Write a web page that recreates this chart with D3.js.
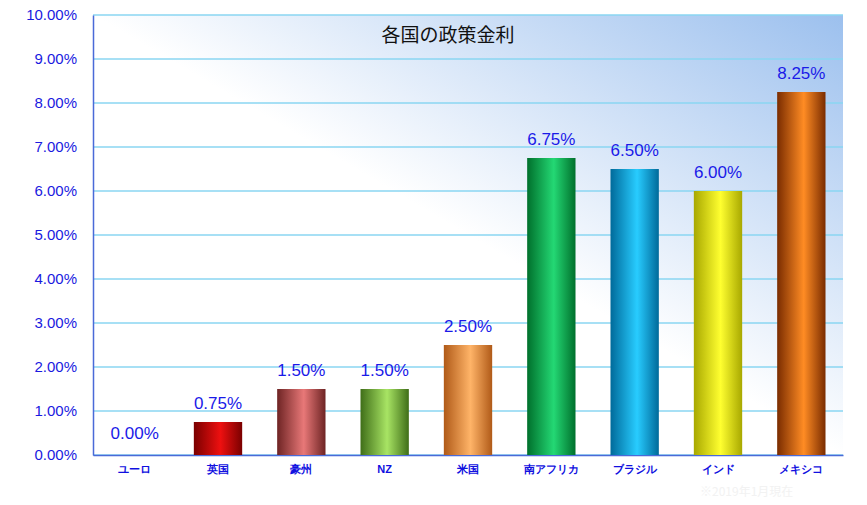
<!DOCTYPE html>
<html><head><meta charset="utf-8">
<script src="https://cdn.jsdelivr.net/npm/d3@7"></script>
<style>body{margin:0;background:#fff}</style>
</head><body>
<script>
var categories = ["ユーロ","英国","豪州","NZ","米国","南アフリカ","ブラジル","インド","メキシコ"];
var rates = [0, 0.75, 1.5, 1.5, 2.5, 6.75, 6.5, 6.0, 8.25];
var darkColors = ["#888","#7a0000","#6e2424","#3f6e18","#b05a18","#00702c","#006a9a","#a8a800","#7a2c00"];
var lightColors = ["#ccc","#ee1010","#e87878","#a8e464","#ffb468","#24d874","#28ccff","#ffff30","#ff8c24"];
var yTicks = [0,1,2,3,4,5,6,7,8,9,10];

var W = 867, H = 505, m = {l:93, r:24, t:15, b:50};
var svg = d3.select("body").append("svg").attr("width", W).attr("height", H)
    .style("font-family", "'Noto Sans CJK JP', sans-serif");
var defs = svg.append("defs");

var bg = defs.append("linearGradient").attr("id","bg")
    .attr("x1","0%").attr("y1","100%").attr("x2","100%").attr("y2","0%");
bg.append("stop").attr("offset","50%").attr("stop-color","#ffffff");
bg.append("stop").attr("offset","100%").attr("stop-color","#9cc0ee");

rates.forEach(function(v, i) {
    var g = defs.append("linearGradient").attr("id","bar"+i);
    g.append("stop").attr("offset","0%").attr("stop-color", darkColors[i]);
    g.append("stop").attr("offset","55%").attr("stop-color", lightColors[i]);
    g.append("stop").attr("offset","100%").attr("stop-color", darkColors[i]);
});

var x = d3.scaleBand().domain(categories).range([m.l, W - m.r]).paddingInner(0.42).paddingOuter(0.21);
var y = d3.scaleLinear().domain([0, 10]).range([H - m.b, m.t]);

svg.append("rect").attr("x", m.l).attr("y", m.t).attr("width", W - m.r - m.l)
    .attr("height", H - m.b - m.t).attr("fill", "url(#bg)");

// Grid lines
svg.append("g").selectAll("line").data(yTicks).join("line")
    .attr("x1", m.l).attr("x2", W - m.r).attr("y1", y).attr("y2", y)
    .attr("stroke", "#8ad6f2").attr("stroke-width", 1.5);

// Y axis
var yAxis = svg.append("g").attr("transform", "translate(" + m.l + ",0)")
    .call(d3.axisLeft(y).tickValues(yTicks).tickSize(0).tickPadding(16)
        .tickFormat(function(d) { return d.toFixed(2) + "%"; }));
yAxis.select(".domain").attr("stroke", "#4a6ad8").attr("stroke-width", 1.5);
yAxis.selectAll("text").attr("fill", "#1a1ae0").style("font-size", "15px")
    .style("font-family", "'Liberation Sans', Arial, sans-serif");

// X axis
var xAxis = svg.append("g").attr("transform", "translate(0," + (H - m.b) + ")")
    .call(d3.axisBottom(x).tickSize(0).tickPadding(10));
xAxis.select(".domain").attr("stroke", "#4a6ad8").attr("stroke-width", 1.5);
xAxis.selectAll("text").attr("fill", "#1010e0").style("font-size", "11px").style("font-weight", "bold");

// Bars
svg.append("g").selectAll("rect").data(rates).join("rect")
    .attr("x", function(d, i) { return x(categories[i]); })
    .attr("y", function(d) { return y(d); })
    .attr("width", x.bandwidth())
    .attr("height", function(d) { return y(0) - y(d); })
    .attr("fill", function(d, i) { return "url(#bar" + i + ")"; });

// Value labels
svg.append("g").selectAll("text").data(rates).join("text")
    .attr("x", function(d, i) { return x(categories[i]) + x.bandwidth() / 2; })
    .attr("y", function(d) { return y(d) - (d === 0 ? 16 : 13); })
    .attr("text-anchor", "middle").attr("fill", "#1a1ae8")
    .style("font-size", "17px").style("font-family", "'Liberation Sans', Arial, sans-serif")
    .text(function(d) { return d.toFixed(2) + "%"; });

// Title
svg.append("text").attr("x", 448).attr("y", 42).attr("text-anchor", "middle")
    .style("font-size", "19px").attr("fill", "#111").text("各国の政策金利");

// Faint note
svg.append("text").attr("x", 700).attr("y", 496).attr("fill", "#f2f2f2")
    .style("font-size", "12px").text("※2019年1月現在");
</script>
</body></html>
